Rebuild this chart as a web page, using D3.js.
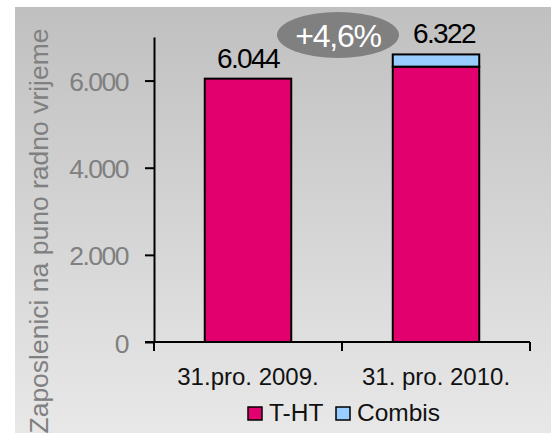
<!DOCTYPE html>
<html>
<head>
<meta charset="utf-8">
<script src="https://cdn.jsdelivr.net/npm/d3@7"></script>
<style>
  body { margin: 0; background: #fff; }
  text { font-family: "Liberation Sans", Arial, sans-serif; }
</style>
</head>
<body>
<div id="chart"></div>
<script>
var svgWidth = 551;
var svgHeight = 433;

// data
var categories = ["31.pro. 2009.", "31. pro. 2010."];
var thtValues = [6044, 6320];
var combisValues = [0, 280];
var totalLabels = ["6.044", "6.322"];
var yTicks = [0, 2000, 4000, 6000];
var seriesNames = ["T-HT", "Combis"];
var seriesColors = ["#e2006f", "#99ccff"];
var growthLabel = "+4,6%";

var svg = d3.select("#chart")
    .append("svg")
    .attr("width", svgWidth)
    .attr("height", svgHeight);

// background gradient panel
var grad = svg.append("defs").append("linearGradient")
    .attr("id", "bg")
    .attr("x1", 0).attr("y1", 0).attr("x2", 0).attr("y2", 1);
grad.append("stop").attr("offset", "0%").attr("stop-color", "#c0c0c0");
grad.append("stop").attr("offset", "100%").attr("stop-color", "#e8e8e8");

svg.append("rect")
    .attr("x", 15).attr("y", 7)
    .attr("width", svgWidth - 15).attr("height", svgHeight - 7)
    .attr("fill", "url(#bg)");

var x0 = 154, x1 = 530, yTop = 37, yBase = 342;

var xScale = d3.scaleBand()
    .domain(categories)
    .range([x0, x1])
    .paddingInner(0.54)
    .paddingOuter(0.27);

var yScale = d3.scaleLinear()
    .domain([0, 7000])
    .range([yBase, yTop]);

var fmt = function(d) { return d3.format(",")(d).replace(/,/g, "."); };

// y axis
var yAxis = svg.append("g")
    .attr("transform", "translate(" + x0 + ",0)")
    .call(d3.axisLeft(yScale).tickValues(yTicks).tickSize(9).tickSizeOuter(0).tickPadding(17).tickFormat(fmt));
yAxis.select(".domain").attr("stroke", "#000").attr("stroke-width", 2);
yAxis.selectAll(".tick line").attr("stroke", "#000").attr("stroke-width", 2);
yAxis.selectAll(".tick text")
    .attr("fill", "#808080")
    .attr("font-size", 26.5)
    .attr("letter-spacing", -1.5)
    .attr("dy", "0.38em")
    .attr("font-family", "Liberation Sans, Arial, sans-serif");

// x axis
var xAxisLine = svg.append("g");
xAxisLine.append("line")
    .attr("x1", x0 - 9).attr("x2", x1)
    .attr("y1", yBase).attr("y2", yBase)
    .attr("stroke", "#000").attr("stroke-width", 2);
xAxisLine.selectAll("line.tk")
    .data([0, 1, 2])
    .enter()
    .append("line")
    .attr("class", "tk")
    .attr("x1", function(i) { return x0 + i * (x1 - x0) / 2; })
    .attr("x2", function(i) { return x0 + i * (x1 - x0) / 2; })
    .attr("y1", yBase).attr("y2", yBase + 9)
    .attr("stroke", "#000").attr("stroke-width", 2);

xAxisLine.selectAll("text.cat")
    .data(categories)
    .enter()
    .append("text")
    .attr("class", "cat")
    .attr("x", function(d) { return xScale(d) + xScale.bandwidth() / 2; })
    .attr("y", 385)
    .attr("text-anchor", "middle")
    .attr("font-size", 24)
    .attr("fill", "#111")
    .text(function(d) { return d; });

// bars
var bars = svg.append("g");
bars.selectAll("rect.tht")
    .data(categories)
    .enter()
    .append("rect")
    .attr("class", "tht")
    .attr("x", function(d) { return xScale(d); })
    .attr("width", xScale.bandwidth())
    .attr("y", function(d, i) { return yScale(thtValues[i]); })
    .attr("height", function(d, i) { return yScale(0) - yScale(thtValues[i]); })
    .attr("fill", seriesColors[0])
    .attr("stroke", "#000").attr("stroke-width", 2);

bars.selectAll("rect.combis")
    .data(categories.filter(function(d, i) { return combisValues[i] > 0; }))
    .enter()
    .append("rect")
    .attr("class", "combis")
    .attr("x", function(d) { return xScale(d); })
    .attr("width", xScale.bandwidth())
    .attr("y", function(d) { var i = categories.indexOf(d); return yScale(thtValues[i] + combisValues[i]); })
    .attr("height", function(d) { var i = categories.indexOf(d); return yScale(thtValues[i]) - yScale(thtValues[i] + combisValues[i]); })
    .attr("fill", seriesColors[1])
    .attr("stroke", "#000").attr("stroke-width", 2);

// total labels
svg.selectAll("text.total")
    .data(categories)
    .enter()
    .append("text")
    .attr("class", "total")
    .attr("x", function(d, i) { return xScale(d) + xScale.bandwidth() / 2 + (i === 1 ? 8 : 0); })
    .attr("y", function(d, i) { return yScale(thtValues[i] + combisValues[i]) - 11; })
    .attr("text-anchor", "middle")
    .attr("font-size", 28)
    .attr("letter-spacing", -1.6)
    .attr("fill", "#000")
    .text(function(d, i) { return totalLabels[i]; });

// growth bubble
svg.append("ellipse")
    .attr("cx", 338).attr("cy", 35)
    .attr("rx", 61).attr("ry", 23)
    .attr("fill", "#808080");
svg.append("text")
    .attr("x", 338).attr("y", 47)
    .attr("text-anchor", "middle")
    .attr("font-size", 32)
    .attr("letter-spacing", -1.2)
    .attr("fill", "#fff")
    .text(growthLabel);

// y axis title
svg.append("text")
    .attr("transform", "translate(48,231) rotate(-90)")
    .attr("text-anchor", "middle")
    .attr("font-size", 26.5)
    .attr("fill", "#808080")
    .text("Zaposlenici na puno radno vrijeme");

// legend
var legend = svg.append("g");
var legendX = [248, 336];
legend.selectAll("rect")
    .data(seriesNames)
    .enter()
    .append("rect")
    .attr("x", function(d, i) { return legendX[i]; })
    .attr("y", 407)
    .attr("width", 14).attr("height", 13)
    .attr("fill", function(d, i) { return seriesColors[i]; })
    .attr("stroke", "#000").attr("stroke-width", 1.5);
legend.selectAll("text")
    .data(seriesNames)
    .enter()
    .append("text")
    .attr("x", function(d, i) { return legendX[i] + 21; })
    .attr("y", 421)
    .attr("font-size", 24.5)
    .attr("fill", "#111")
    .text(function(d) { return d; });
</script>
</body>
</html>
